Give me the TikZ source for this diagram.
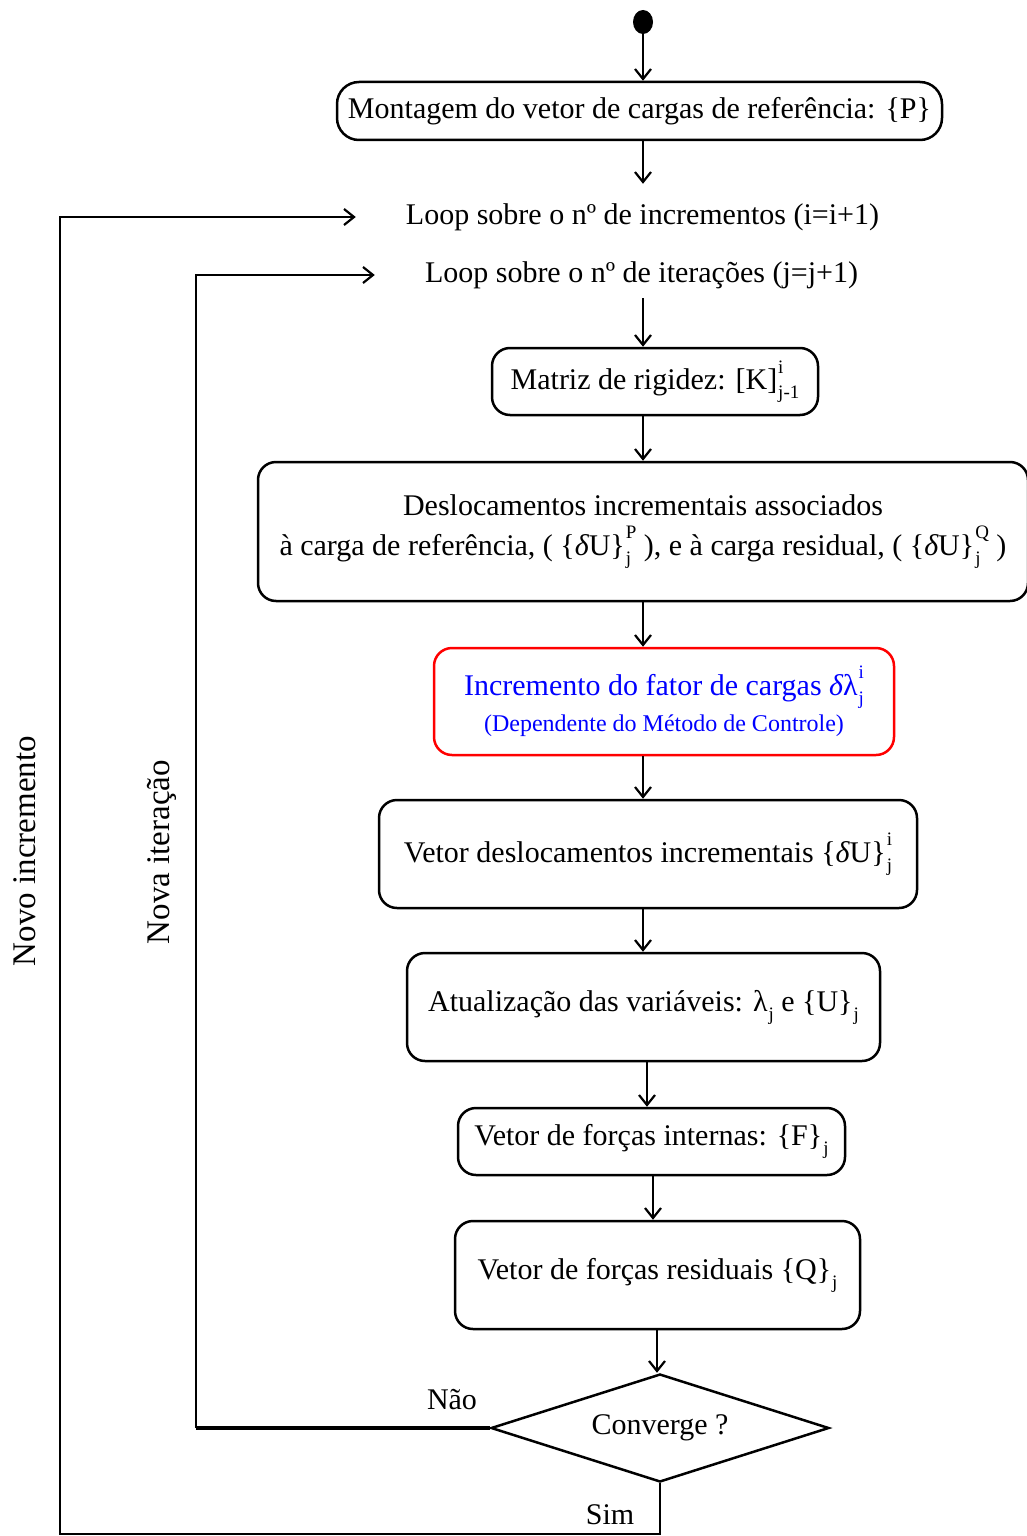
\documentclass[tikz,border=0pt]{standalone}
\usepackage{fontspec}
\setmainfont{Liberation Serif}
\usetikzlibrary{arrows.meta,shapes.geometric}
\newcommand\mysupsub[2]{\setbox0\hbox{\fontsize{19}{19}\selectfont #1}\setbox2\hbox{\fontsize{19}{19}\selectfont #2}%
  \hbox{\kern1pt\raise0.55em\copy0\kern-\wd0\lower0.3em\copy2\ifdim\wd0>\wd2\kern\dimexpr\wd0-\wd2\relax\fi}}
\newcommand\mysub[1]{\hbox{\kern1pt\lower0.3em\hbox{\fontsize{19}{19}\selectfont #1}}}
\begin{document}
\begin{tikzpicture}[x=1pt,y=-1pt,
  box/.style={draw, line width=2.5pt, rounded corners=18pt, align=center, inner sep=0pt, font=\fontsize{30}{40}\selectfont},
  arr/.style={line width=2.2pt, -{Straight Barb[length=10pt,width=16pt,line width=2.2pt]}},
  lbl/.style={font=\fontsize{30}{36}\selectfont, inner sep=0pt},
  rlbl/.style={font=\fontsize{33}{36}\selectfont, inner sep=0pt, rotate=90},
]
\useasboundingbox (0,0) rectangle (1026,1536);
% spines
\coordinate (sp) at (643,0);
\coordinate (spb) at (647,0);
\coordinate (spc) at (653,0);
\coordinate (spd) at (657,0);
\coordinate (xJ) at (196,0);
\coordinate (cornerI) at (60,1534);

\node[ellipse, fill, minimum width=20pt, minimum height=24pt, inner sep=0pt] (start) at (643,22) {};
\node[box, minimum width=605pt, minimum height=58pt, rounded corners=22pt] (mont) at (639.5,111)
  {Montagem do vetor de cargas de referência: \{P\}};
\node[lbl, inner xsep=50pt, inner ysep=19pt, text height=21pt, text depth=7pt] (loopI) at (642.5,217)
  {Loop sobre o nº de incrementos (i=i+1)};
\node[lbl, inner xsep=50pt, inner ysep=9pt, text height=21pt, text depth=7pt] (loopJ) at (641.5,275)
  {Loop sobre o nº de iterações (j=j+1)};
\node[box, minimum width=326pt, minimum height=67pt] (mat) at (655,381.5)
  {Matriz de rigidez: [K]\mysupsub{i}{j-1}};
\node[box, minimum width=770pt, minimum height=139pt] (desl) at (643,531.5)
  {Deslocamentos incrementais associados\\
   à carga de referência, ( \{{\itshape δ}U\}\mysupsub{P}{j} ), e à carga residual, ( \{{\itshape δ}U\}\mysupsub{Q}{j} )};
\node[box, draw=red, text=blue, minimum width=460pt, minimum height=107pt] (incr) at (664,701.5)
  {Incremento do fator de cargas {\itshape δ}λ\mysupsub{i}{j}\\[-4pt]
   {\fontsize{24}{28}\selectfont (Dependente do Método de Controle)}};
\node[box, minimum width=538pt, minimum height=108pt] (vetd) at (648,854)
  {Vetor deslocamentos incrementais \{{\itshape δ}U\}\mysupsub{i}{j}};
\node[box, minimum width=473pt, minimum height=108pt] (atual) at (643.5,1007)
  {Atualização das variáveis: λ\mysub{j} e \{U\}\mysub{j}};
\node[box, minimum width=387pt, minimum height=67pt] (fint) at (651.5,1141.5)
  {Vetor de forças internas: \{F\}\mysub{j}};
\node[box, minimum width=405pt, minimum height=108pt] (res) at (657.5,1275)
  {Vetor de forças residuais \{Q\}\mysub{j}};
\node[diamond, aspect=3.13, draw, line width=2.5pt, minimum width=338pt, minimum height=108pt, inner sep=0pt,
  font=\fontsize{30}{36}\selectfont] (dec) at (660,1428) {Converge ?};

\node[lbl] (nao) at (452,1400) {Não};
\node[lbl] (sim) at (610,1515) {Sim};
\node[rlbl] (novoI) at (25,851) {Novo incremento};
\node[rlbl] (novaJ) at (162,852) {Nova iteração};

% vertical arrows
\draw[arr] (start) -- (mont.north -| sp);
\draw[arr] (mont.south -| sp) -- (loopI.north -| sp);
\draw[arr] (loopJ.south -| sp) -- (mat.north -| sp);
\draw[arr] (mat.south -| sp) -- (desl.north -| sp);
\draw[arr] (desl.south -| sp) -- (incr.north -| sp);
\draw[arr] (incr.south -| sp) -- (vetd.north -| sp);
\draw[arr] (vetd.south -| sp) -- (atual.north -| sp);
\draw[arr] (atual.south -| spb) -- (fint.north -| spb);
\draw[arr] (fint.south -| spc) -- (res.north -| spc);
\draw[arr] (res.south -| spd) -- (dec.north -| spd);

% loops
\draw[line width=4pt] (dec.west) -- (dec.west -| xJ);
\draw[arr, line width=2.5pt] (dec.west -| xJ) |- (loopJ.west);
\draw[arr, line width=2.5pt] (dec.south) |- (cornerI) |- (loopI.west);
\end{tikzpicture}
\end{document}
